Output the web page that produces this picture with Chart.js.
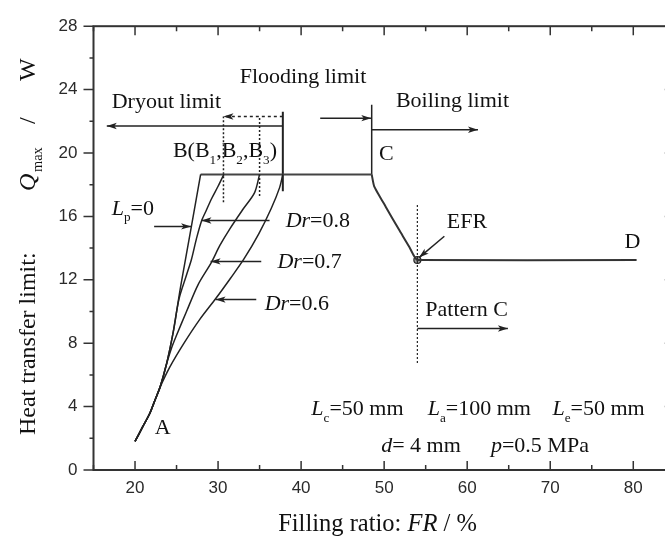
<!DOCTYPE html>
<html><head><meta charset="utf-8">
<script src="https://cdn.jsdelivr.net/npm/chart.js@4/dist/chart.umd.min.js"></script>
<style>html,body{margin:0;padding:0;background:#fff;overflow:hidden;width:665px;height:536px}canvas{display:block}</style>
</head><body><canvas id="c" width="680" height="536"></canvas>
<script>
// ---- axis tick labels ----
const xTicks = [20, 30, 40, 50, 60, 70, 80];
const yTicks = [0, 4, 8, 12, 16, 20, 24, 28];

// ---- curves (FR %, Qmax W) ----
const baseX = [20.0, 20.9, 21.8, 22.4, 23.0];
const baseY = [1.8, 2.7, 3.6, 4.4, 5.2];
const lp0X = [...baseX, 23.8, 24.6, 25.5, 26.8, 27.9];
const lp0Y = [...baseY, 6.7, 8.7, 11.6, 15.4, 18.65];
const dr08X = [...baseX, 23.8, 24.6, 25.3, 26.2, 26.8, 27.4, 28.0, 28.6, 29.2, 30.0, 30.7];
const dr08Y = [...baseY, 6.7, 8.7, 10.8, 12.3, 13.3, 14.6, 15.7, 16.4, 17.1, 17.9, 18.65];
const dr07X = [...baseX, 23.8, 24.4, 25.0, 26.2, 27.6, 29.2, 30.2, 31.4, 33.0, 34.4, 35.0];
const dr07Y = [...baseY, 6.7, 7.7, 8.5, 10.0, 11.7, 13.1, 14.15, 15.2, 16.45, 17.5, 18.65];
const dr06X = [...baseX, 24.2, 25.9, 27.8, 29.7, 31.5, 33.1, 34.9, 36.4, 37.4, 37.8];
const dr06Y = [...baseY, 6.5, 8.0, 9.5, 10.8, 12.1, 13.3, 14.9, 16.5, 17.8, 18.65];
const plateauX = [27.9, 48.5];
const plateauY = [18.65, 18.65];
const boilX = [48.5, 48.8, 50.2, 51.8, 53.0, 53.6, 54.0, 80.4];
const boilY = [18.65, 17.9, 16.6, 15.15, 14.1, 13.5, 13.25, 13.25];
const efrPoint = [54.0, 13.25];

// ---- guide lines ----
const vC = [[48.5, 18.65], [48.5, 23.05]];
const vB3 = [[37.8, 17.58], [37.8, 22.6]];
const vB1 = [[30.65, 16.9], [30.65, 22.3]];
const vB2 = [[35.0, 17.28], [35.0, 22.3]];
const vEFR = [[54.0, 6.75], [54.0, 16.72]];

// ---- arrows [from, to] ----
const arrDryout = [[37.8, 21.7], [16.6, 21.7]];
const arrFlood = [[42.3, 22.2], [48.45, 22.2]];
const arrBoil = [[48.5, 21.47], [61.3, 21.47]];
const arrFloodDot = [[37.8, 22.3], [30.65, 22.3]];
const arrLp = [[22.3, 15.37], [26.75, 15.37]];
const arrDr08 = [[36.2, 15.74], [28.0, 15.74]];
const arrDr07 = [[35.2, 13.16], [29.1, 13.16]];
const arrDr06 = [[34.6, 10.75], [29.7, 10.75]];
const arrEFR = [[57.25, 14.75], [54.2, 13.4]];
const arrPattern = [[54.0, 8.93], [64.9, 8.93]];

const INK = '#222';
const pts = (xs, ys) => xs.map((x, i) => ({x, y: ys[i]}));
const seg = a => a.map(p => ({x: p[0], y: p[1]}));

function line(data, extra) {
  return Object.assign({data, showLine: true, borderColor: INK, backgroundColor: INK,
    borderWidth: 1.5, pointRadius: 0, tension: 0, fill: false}, extra || {});
}

const datasets = [
  line(pts(lp0X, lp0Y), {tension: 0.2}),
  line(pts(dr08X, dr08Y), {tension: 0.3}),
  line(pts(dr07X, dr07Y), {tension: 0.3}),
  line(pts(dr06X, dr06Y), {tension: 0.3}),
  line(pts(plateauX, plateauY), {borderColor: '#444', borderWidth: 2}),
  line(pts(boilX, boilY), {borderColor: '#333', borderWidth: 2, tension: 0.15}),
  line(seg(vC)), line(seg(vB3), {borderWidth: 2}),
  line(seg(vB1), {borderDash: [2, 2]}), line(seg(vB2), {borderDash: [2, 2]}),
  line(seg(vEFR), {borderDash: [2, 2], borderWidth: 1.2}),
  line(seg(arrDryout), {arrow: true}),
  line(seg(arrFlood), {arrow: true}),
  line(seg(arrBoil), {arrow: true}),
  line(seg(arrFloodDot), {arrow: true, borderDash: [3, 3]}),
  line(seg(arrLp), {arrow: true}),
  line(seg(arrDr08), {arrow: true}),
  line(seg(arrDr07), {arrow: true}),
  line(seg(arrDr06), {arrow: true}),
  line(seg(arrEFR), {arrow: true}),
  line(seg(arrPattern), {arrow: true}),
  {data: [{x: efrPoint[0], y: efrPoint[1]}], showLine: false, pointRadius: 3.5,
   pointBorderColor: INK, pointBackgroundColor: '#999', pointBorderWidth: 1.2}
];

// ---- text annotations (data coords) ----
const SERIF = '"Liberation Serif", "Times New Roman", serif';
const FS = 22;
const notes = [
  {x: 32.61, y: 24.85, runs: [['Flooding limit']]},
  {x: 17.19, y: 23.3, runs: [['Dryout limit']]},
  {x: 51.42, y: 23.36, runs: [['Boiling limit']]},
  {x: 24.56, y: 20.18, runs: [['B(B'], ['1', 's'], [',B'], ['2', 's'], [',B'], ['3', 's'], [')']]},
  {x: 49.39, y: 20.0, runs: [['C']]},
  {x: 17.19, y: 16.54, runs: [['L', 'i'], ['p', 's'], ['=0']]},
  {x: 38.14, y: 15.77, runs: [['Dr', 'i'], ['=0.8']]},
  {x: 37.15, y: 13.18, runs: [['Dr', 'i'], ['=0.7']]},
  {x: 35.61, y: 10.56, runs: [['Dr', 'i'], ['=0.6']]},
  {x: 57.54, y: 15.74, runs: [['EFR']]},
  {x: 78.94, y: 14.46, runs: [['D']]},
  {x: 54.96, y: 10.13, runs: [['Pattern C']]},
  {x: 22.37, y: 2.7, runs: [['A']]},
  {x: 41.23, y: 3.9, runs: [['L', 'i'], ['c', 's'], ['=50 mm']]},
  {x: 55.24, y: 3.9, runs: [['L', 'i'], ['a', 's'], ['=100 mm']]},
  {x: 70.26, y: 3.9, runs: [['L', 'i'], ['e', 's'], ['=50 mm']]},
  {x: 49.64, y: 1.6, runs: [['d', 'i'], ['= 4 mm']]},
  {x: 62.86, y: 1.6, runs: [['p', 'i'], ['=0.5 MPa']]}
];
const xTitle = [['Filling ratio: '], ['FR', 'i'], [' / %']];
// y title pieces: [text, style, offset along the axis from its start]
const yTitle = [['Heat transfer limit:', '', 0], ['Q', 'i', 244], ['max', 's', 263], ['/', '', 311], ['W', '', 354]];

function runFont(style, size) {
  const sz = style && style.includes('s') ? size * 0.6 : size;
  return (style && style.includes('i') ? 'italic ' : '') + sz + 'px ' + SERIF;
}
function runsWidth(ctx, runs, size) {
  let w = 0;
  runs.forEach(r => { ctx.font = runFont(r[1], size); w += ctx.measureText(r[0]).width; });
  return w;
}
function drawRuns(ctx, runs, x, cy, size) {
  const base = cy + 0.32 * size;
  ctx.textBaseline = 'alphabetic';
  ctx.textAlign = 'left';
  runs.forEach(r => {
    ctx.font = runFont(r[1], size);
    const dy = r[1] && r[1].includes('s') ? 0.3 * size : 0;
    ctx.fillText(r[0], r.length > 2 ? x + r[2] : x, base + dy);
    if (r.length <= 2) x += ctx.measureText(r[0]).width;
  });
}

const decor = {
  id: 'decor',
  beforeDatasetsDraw(chart) {
    const {ctx, chartArea: a, scales: {x, y}} = chart;
    ctx.save();
    ctx.strokeStyle = '#333';
    ctx.lineWidth = 2;
    ctx.strokeRect(a.left, a.top, a.right - a.left, a.bottom - a.top);
    ctx.lineWidth = 1.5;
    ctx.beginPath();
    for (let v = 15; v <= 85; v += 5) {
      const px = x.getPixelForValue(v);
      const L = v % 10 === 0 ? 9 : 5;
      ctx.moveTo(px, a.bottom); ctx.lineTo(px, a.bottom - L);
      ctx.moveTo(px, a.top); ctx.lineTo(px, a.top + L);
    }
    for (let v = 0; v <= 28; v += 2) {
      const py = y.getPixelForValue(v);
      const L = v % 4 === 0 ? 10 : 4;
      ctx.moveTo(a.left, py); ctx.lineTo(a.left - L, py);
      ctx.moveTo(a.right, py); ctx.lineTo(a.right - L, py);
    }
    ctx.stroke();
    ctx.restore();
  },
  afterDatasetsDraw(chart) {
    const {ctx, scales: {x, y}} = chart;
    ctx.save();
    chart.data.datasets.forEach((ds, i) => {
      if (!ds.arrow) return;
      const m = chart.getDatasetMeta(i).data;
      const p1 = m[m.length - 2], p2 = m[m.length - 1];
      const ang = Math.atan2(p2.y - p1.y, p2.x - p1.x);
      const len = 10, hw = 3.2;
      ctx.save();
      ctx.translate(p2.x, p2.y);
      ctx.rotate(ang);
      ctx.fillStyle = INK;
      ctx.beginPath();
      ctx.moveTo(0, 0); ctx.lineTo(-len, -hw); ctx.lineTo(-len * 0.75, 0); ctx.lineTo(-len, hw);
      ctx.closePath();
      ctx.fill();
      ctx.restore();
    });
    ctx.fillStyle = '#111';
    notes.forEach(n => drawRuns(ctx, n.runs, x.getPixelForValue(n.x), y.getPixelForValue(n.y), FS));
    const XFS = 24.5;
    const wx = runsWidth(ctx, xTitle, XFS);
    drawRuns(ctx, xTitle, 377.5 - wx / 2, 523, XFS);
    ctx.save();
    ctx.translate(27, 435);
    ctx.rotate(-Math.PI / 2);
    drawRuns(ctx, yTitle, 0, 0, 24);
    ctx.restore();
    ctx.restore();
  }
};

new Chart(document.getElementById('c'), {
  type: 'scatter',
  data: {datasets},
  options: {
    responsive: false,
    devicePixelRatio: 1,
    animation: false,
    events: [],
    layout: {padding: {top: 21.5, right: 4, left: 0, bottom: 0}},
    plugins: {legend: {display: false}, tooltip: {enabled: false}},
    scales: {
      x: {
        type: 'linear', position: 'bottom', min: 15, max: 85,
        afterBuildTicks: s => { s.ticks = xTicks.map(v => ({value: v})); },
        afterFit: s => { s.height = 66; },
        grid: {display: false, drawTicks: false}, border: {display: false},
        ticks: {font: {family: '"Liberation Sans", Arial, sans-serif', size: 17}, color: '#2a2a2a', padding: 8, maxRotation: 0, autoSkip: false}
      },
      y: {
        type: 'linear', min: 0, max: 28,
        afterBuildTicks: s => { s.ticks = yTicks.map(v => ({value: v})); },
        afterFit: s => { s.width = 93.5; },
        grid: {display: false, drawTicks: false}, border: {display: false},
        ticks: {font: {family: '"Liberation Sans", Arial, sans-serif', size: 17}, color: '#2a2a2a', padding: 16, autoSkip: false}
      }
    }
  },
  plugins: [decor]
});
</script></body></html>
